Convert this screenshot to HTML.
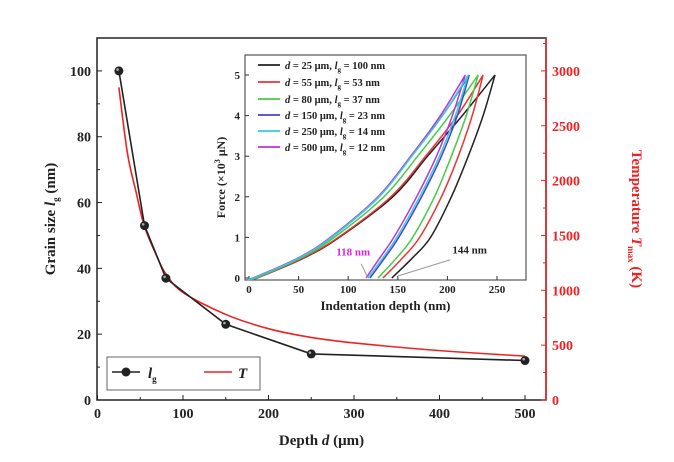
<!DOCTYPE html>
<html><head><meta charset="utf-8">
<style>
body{margin:0;background:#fff;}
svg{display:block;font-family:"Liberation Serif",serif;font-weight:bold;}
</style></head>
<body>
<svg id="c" width="674" height="462" viewBox="0 0 674 462"></svg>
<script>
// main chart data
const depthPts=[25,55,80,150,250,500];
const grainSize=[100,53,37,23,14,12];
const tempDepth=[25,35,45,55,70,80,100,150,200,250,300,400,500];
const tempVals=[2850,2250,1900,1580,1300,1150,980,780,650,570,520,450,400];
const xTicks=[0,100,200,300,400,500];
const yTicks=[0,20,40,60,80,100];
const tTicks=[0,500,1000,1500,2000,2500,3000];
// inset data
const seriesD=["25","55","80","150","250","500"];
const seriesL=["100","53","37","23","14","12"];
const seriesColors=["#222","#e33","#4c4","#44c","#3cd","#b3d"];
const forceLevels=[0,0.5,1,2,3,4,5];
const loadBlack=[8,56,91,145,180,215,248];
const loadRed=[8,55,90,143,178,210,236];
const loadGreen=[7,53,86,136,170,202,231];
const loadBlue=[5,51,83,131,164,195,222];
const loadCyan=[5,51,83,131,164,195,221];
const loadPurple=[4,50,82,130,163,193,218];
const unBlack=[144,165,183,204,221,236,248];
const unRed=[135,155,172,194,211,225,236];
const unGreen=[130,149,165,187,204,219,231];
const unBlue=[122,137,151,174,194,210,222];
const unCyan=[120,135,149,172,192,208,221];
const unPurple=[118,132,146,169,189,205,218];
const insetXTicks=[0,50,100,150,200,250];
const insetYTicks=[0,1,2,3,4,5];

const NS="http://www.w3.org/2000/svg";
const svg=document.getElementById('c');
function mk(tag,attrs,parent){const e=document.createElementNS(NS,tag);for(const k in attrs)e.setAttribute(k,attrs[k]);(parent||svg).appendChild(e);return e;}
function txt(s,x,y,attrs,parent){const e=mk('text',Object.assign({x:x,y:y},attrs||{}),parent);e.textContent=s;return e;}
function smooth(p){if(p.length<2)return'';let d='M'+p[0][0]+','+p[0][1];for(let i=0;i<p.length-1;i++){const p0=p[i-1]||p[i],p1=p[i],p2=p[i+1],p3=p[i+2]||p2;const c1x=p1[0]+(p2[0]-p0[0])/6,c1y=p1[1]+(p2[1]-p0[1])/6,c2x=p2[0]-(p3[0]-p1[0])/6,c2y=p2[1]-(p3[1]-p1[1])/6;d+=` C${c1x},${c1y} ${c2x},${c2y} ${p2[0]},${p2[1]}`;}return d;}

// main axes
const L=97,R=546,T=38,B=400;
const sx=v=>97.5+v*0.855;
const sy=v=>B-(v/110)*(B-T);
const st=v=>B-(v/3300)*(B-T);

let g=mk('g',{});


mk('rect',{x:L,y:T,width:R-L,height:B-T,fill:'none',stroke:'#222','stroke-width':1.5},g);
mk('line',{x1:R,y1:T,x2:R,y2:B,stroke:'#e22','stroke-width':1.5},g);

xTicks.forEach(v=>{const x=sx(v);mk('line',{x1:x,y1:B,x2:x,y2:B-5,stroke:'#222'},g);
 const t=txt(v,x,B+18,{'text-anchor':'middle','font-size':14,fill:'#222'},g);
 
 if(v<500)mk('line',{x1:sx(v+50),y1:B,x2:sx(v+50),y2:B-3,stroke:'#222'},g);});
yTicks.forEach(v=>{const y=sy(v);mk('line',{x1:L,y1:y,x2:L+5,y2:y,stroke:'#222'},g);
 const t=txt(v,L-6,y+5,{'text-anchor':'end','font-size':14,fill:'#222'},g);
 
 mk('line',{x1:L,y1:sy(v+10),x2:L+3,y2:sy(v+10),stroke:'#222'},g);});
tTicks.forEach(v=>{const y=st(v);mk('line',{x1:R,y1:y,x2:R-5,y2:y,stroke:'#e22'},g);
 const t=txt(v,R+6,y+5,{'font-size':14,fill:'#e22'},g);
 
 mk('line',{x1:R,y1:st(v+250),x2:R-3,y2:st(v+250),stroke:'#e22'},g);});

let xt=txt('',(L+R)/2,B+45,{'text-anchor':'middle','font-size':15,fill:'#222'},svg);
xt.innerHTML='Depth <tspan font-style="italic">d</tspan> (μm)';

let yt=txt('',0,0,{'text-anchor':'middle','font-size':15,fill:'#222',transform:`translate(55,${(T+B)/2}) rotate(-90)`});
yt.innerHTML='Grain size <tspan font-style="italic">l</tspan><tspan font-size="9" dy="4">g</tspan><tspan dy="-4"> (nm)</tspan>';

let rt=txt('',0,0,{'text-anchor':'middle','font-size':15,fill:'#e22',transform:`translate(632,${(T+B)/2}) rotate(90)`});
rt.innerHTML='Temperature <tspan font-style="italic">T</tspan><tspan font-size="9" dy="4">max</tspan><tspan dy="-4"> (K)</tspan>';


let tl=mk('path',{d:smooth(tempDepth.map((d,i)=>[sx(d),st(tempVals[i])])),fill:'none',stroke:'#e22','stroke-width':1.6});

let gl=mk('polyline',{points:depthPts.map((d,i)=>sx(d)+','+sy(grainSize[i])).join(' '),fill:'none',stroke:'#222','stroke-width':1.6});

depthPts.forEach((d,i)=>{const c=mk('circle',{cx:sx(d),cy:sy(grainSize[i]),r:4.5,fill:'#222'});
 
 mk('circle',{cx:sx(d)-1.3,cy:sy(grainSize[i])-1.3,r:1.3,fill:'#aaa'});});

// main legend
let lg=mk('g',{});

mk('rect',{x:107,y:357,width:153,height:33,fill:'#fff',stroke:'#666'},lg);
mk('line',{x1:112,y1:372,x2:140,y2:372,stroke:'#222','stroke-width':1.6},lg);
mk('circle',{cx:126,cy:372,r:4.5,fill:'#222'},lg);
let l1=txt('',148,378,{'font-size':15,fill:'#222'},lg);l1.innerHTML='<tspan font-style="italic">l</tspan><tspan font-size="9" dy="4">g</tspan>';
mk('line',{x1:204,y1:372,x2:232,y2:372,stroke:'#e22','stroke-width':1.6},lg);
txt('T',238,378,{'font-size':15,fill:'#222','font-style':'italic'},lg);

// inset
const IL=245,IR=526,IT=55,IB=280;
const ix=v=>249+v*0.992;
const iy=v=>278-v*40.6;
let ig=mk('g',{});

mk('rect',{x:IL,y:IT,width:IR-IL,height:IB-IT,fill:'#fff',stroke:'#555','stroke-width':1.2},ig);
insetXTicks.forEach(v=>{mk('line',{x1:ix(v),y1:IB,x2:ix(v),y2:IB-4,stroke:'#333'},ig);
 const t=txt(v,ix(v),IB+13,{'text-anchor':'middle','font-size':11,fill:'#222'},ig);
 });
insetYTicks.forEach(v=>{mk('line',{x1:IL,y1:iy(v),x2:IL+4,y2:iy(v),stroke:'#333'},ig);
 const t=txt(v,IL-5,iy(v)+4,{'text-anchor':'end','font-size':11,fill:'#222'},ig);
 });
let ixt=txt('Indentation depth (nm)',(IL+IR)/2,IB+30,{'text-anchor':'middle','font-size':13,fill:'#222'});

let iyt=txt('',0,0,{'text-anchor':'middle','font-size':12,fill:'#222',transform:`translate(225,${(IT+IB)/2+10}) rotate(-90)`});
iyt.innerHTML='Force (×10<tspan font-size="8" dy="-5">3</tspan><tspan dy="5"> μN)</tspan>';


const loads=[loadBlack,loadRed,loadGreen,loadBlue,loadCyan,loadPurple];
const unloads=[unBlack,unRed,unGreen,unBlue,unCyan,unPurple];
[0,1,2,3,5,4].forEach(i=>{
 const lp=[[ix(0),iy(0)]].concat(forceLevels.map((f,k)=>[ix(loads[i][k]),iy(f)]));
 const up=forceLevels.map((f,k)=>[ix(unloads[i][k]),iy(f)]).reverse();
 const p=mk('path',{d:smooth(lp)+' L'+smooth(up).slice(1),fill:'none',stroke:seriesColors[i],'stroke-width':1.5},ig);
 
});
// annotations
let a1=txt('118 nm',ix(88),iy(0.55),{'font-size':11,fill:'#d2d','text-anchor':'start'},ig);

mk('line',{x1:ix(113),y1:iy(0.35),x2:ix(119),y2:iy(0.05),stroke:'#999'},ig);
let a2=txt('144 nm',ix(205),iy(0.6),{'font-size':11,fill:'#222'},ig);

mk('line',{x1:ix(203),y1:iy(0.45),x2:ix(150),y2:iy(0.05),stroke:'#999'},ig);

// inset legend
const legY=[65,82,99,115,131,147];
seriesD.forEach((d,i)=>{const row=mk('g',{},ig);
 
 mk('line',{x1:258,y1:legY[i],x2:280,y2:legY[i],stroke:seriesColors[i],'stroke-width':1.8},row);
 const t=txt('',285,legY[i]+4,{'font-size':10.5,fill:'#222'},row);
 t.innerHTML=`<tspan font-style="italic">d</tspan> = ${d} μm, <tspan font-style="italic">l</tspan><tspan font-size="7" dy="3">g</tspan><tspan dy="-3"> = ${seriesL[i]} nm</tspan>`;
});
</script>
</body></html>
